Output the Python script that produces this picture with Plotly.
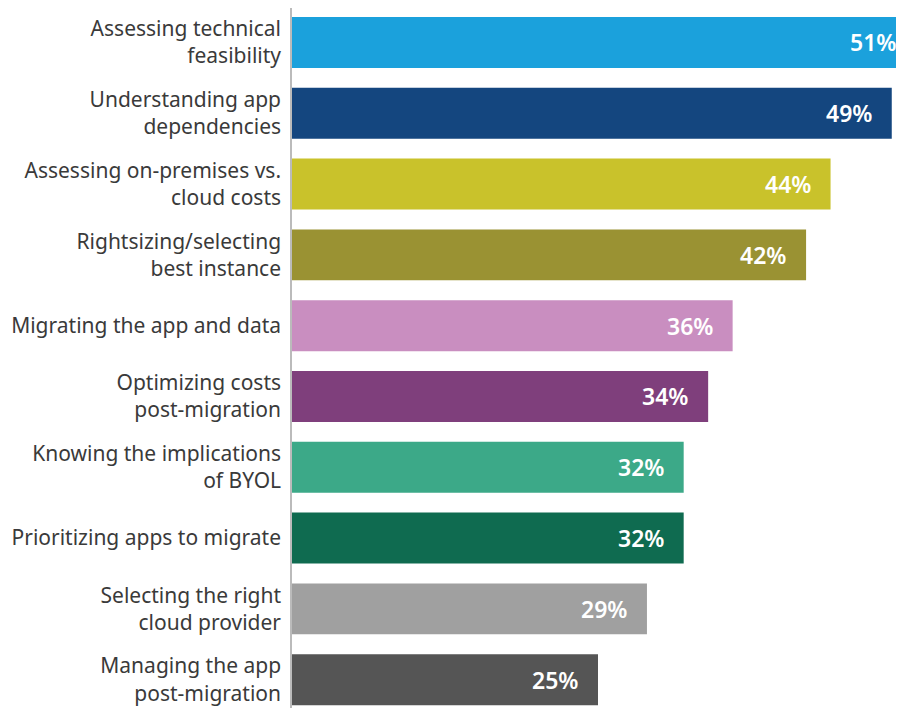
import plotly.graph_objects as go

categories = [
    "Assessing technical<br>feasibility",
    "Understanding app<br>dependencies",
    "Assessing on-premises vs.<br>cloud costs",
    "Rightsizing/selecting<br>best instance",
    "Migrating the app and data",
    "Optimizing costs<br>post-migration",
    "Knowing the implications<br>of BYOL",
    "Prioritizing apps to migrate",
    "Selecting the right<br>cloud provider",
    "Managing the app<br>post-migration",
]
values = [51, 49, 44, 42, 36, 34, 32, 32, 29, 25]
colors = ["#1ba1dc", "#14467f", "#c9c22b", "#9a9233", "#c98ec0",
          "#7f3f7c", "#3ca988", "#0f6b50", "#a0a0a0", "#555555"]

fig = go.Figure(go.Bar(
    x=values, y=categories, orientation="h",
    marker=dict(color=colors, line=dict(width=0)),
    hoverinfo="x+y",
))

# value labels inside the bar ends
for cat, v in zip(categories, values):
    fig.add_annotation(
        x=v, y=cat, text=f"{v}%", showarrow=False,
        xanchor="right", xshift=-18,
        font=dict(family="Noto Sans", size=23, color="white", weight=600),
    )

# page has an 8px body margin, so the figure is shifted; compensate here
fig.update_layout(
    width=930, height=708,
    margin=dict(l=284, r=0, t=0, b=0),
    paper_bgcolor="white", plot_bgcolor="white",
    bargap=0.28, showlegend=False,
    font=dict(family="Noto Sans", size=21, color="#3a3a3a"),
)
fig.update_xaxes(range=[0, 646 / 12.24], visible=False)
fig.update_yaxes(range=[9.513, -0.487], showline=True, linecolor="#bbbbbb", linewidth=1.5,
                 showgrid=False, zeroline=False, ticks="", ticklabelstandoff=5)

fig.write_html("out.html")
